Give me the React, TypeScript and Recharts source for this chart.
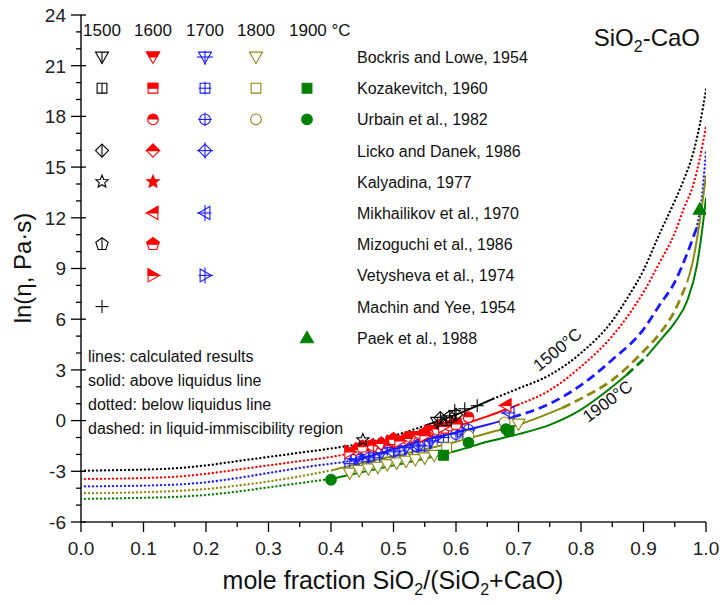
import React from "react";
import { ComposedChart, Line, Scatter, XAxis, YAxis } from "recharts";

const FONT = "'Liberation Sans', Arial, Helvetica, sans-serif";

// axis ticks
const xTicks = [0, 0.05, 0.1, 0.15, 0.2, 0.25, 0.3, 0.35, 0.4, 0.45, 0.5, 0.55, 0.6, 0.65, 0.7, 0.75, 0.8, 0.85, 0.9, 0.95, 1];
const yTicks = [-6, -5, -4, -3, -2, -1, 0, 1, 2, 3, 4, 5, 6, 7, 8, 9, 10, 11, 12, 13, 14, 15, 16, 17, 18, 19, 20, 21, 22, 23, 24];
const tempLabels = ["1500", "1600", "1700", "1800", "1900 °C"];

// calculated ln(eta) curves, x = mole fraction SiO2
const x1500 = [0, 0.05, 0.1, 0.16, 0.2, 0.25, 0.3, 0.35, 0.4, 0.45, 0.5, 0.55, 0.6, 0.66, 0.7, 0.75, 0.8, 0.85, 0.875, 0.9, 0.925, 0.95, 0.965, 0.98, 0.99, 1];
const y1500 = [-2.97, -2.94, -2.9, -2.8, -2.65, -2.4, -2.15, -1.9, -1.65, -1.35, -0.9, -0.3, 0.35, 1.3, 1.9, 2.7, 4.0, 5.9, 7.3, 8.9, 11.0, 13.0, 14.3, 15.9, 17.5, 19.6];
const x1600 = [0, 0.05, 0.1, 0.16, 0.2, 0.25, 0.3, 0.35, 0.4, 0.46, 0.5, 0.55, 0.6, 0.65, 0.7, 0.75, 0.8, 0.85, 0.875, 0.9, 0.925, 0.95, 0.965, 0.98, 0.99, 1];
const y1600 = [-3.46, -3.44, -3.4, -3.3, -3.15, -2.9, -2.65, -2.4, -2.15, -1.7, -1.3, -0.85, -0.35, 0.25, 0.95, 1.8, 3.2, 5.0, 6.2, 7.6, 9.3, 11.1, 12.6, 14.0, 15.5, 17.4];
const x1700 = [0, 0.05, 0.1, 0.16, 0.2, 0.25, 0.3, 0.35, 0.4, 0.44, 0.5, 0.55, 0.6, 0.65, 0.69, 0.75, 0.8, 0.85, 0.9, 0.925, 0.95, 0.97, 0.985, 0.995, 1];
const y1700 = [-3.9, -3.88, -3.85, -3.77, -3.65, -3.4, -3.1, -2.8, -2.55, -2.35, -1.7, -1.15, -0.7, -0.25, 0.2, 1.0, 2.1, 3.6, 5.4, 6.8, 8.2, 9.9, 11.4, 13.8, 16.0];
const x1800 = [0, 0.05, 0.1, 0.16, 0.2, 0.25, 0.3, 0.35, 0.4, 0.45, 0.5, 0.55, 0.6, 0.65, 0.7, 0.77, 0.8, 0.85, 0.9, 0.925, 0.95, 0.97, 0.98, 0.99, 1];
const y1800 = [-4.3, -4.28, -4.24, -4.15, -4.05, -3.85, -3.6, -3.3, -2.95, -2.5, -2.1, -1.7, -1.25, -0.75, -0.25, 0.75, 1.3, 2.4, 4.1, 5.1, 6.5, 8.2, 9.6, 11.8, 14.5];
const x1900 = [0, 0.05, 0.1, 0.16, 0.2, 0.25, 0.3, 0.35, 0.4, 0.45, 0.5, 0.55, 0.6, 0.65, 0.7, 0.75, 0.8, 0.85, 0.873, 0.905, 0.93, 0.95, 0.97, 0.985, 0.995, 1];
const y1900 = [-4.63, -4.61, -4.57, -4.5, -4.4, -4.2, -3.95, -3.7, -3.45, -3.05, -2.65, -2.25, -1.8, -1.25, -0.8, -0.25, 0.65, 2.0, 2.7, 3.8, 4.9, 5.8, 7.1, 9.1, 11.6, 13.2];

// where each curve changes between dotted / solid / dashed
const breaks1500 = [0.55, 0.66];
const breaks1600 = [0.46, 0.7];
const breaks1700 = [0.44, 0.69, 0.985];
const breaks1800 = [0.4, 0.77, 0.97];
const breaks1900 = [0.4, 0.873, 0.905];

// measured data
const bockris1500 = [{ x: 0.57, y: -0.1 }];
const kozakevitch1500 = [{ x: 0.585, y: 0.0 }];
const licko1500 = [{ x: 0.575, y: 0.15 }, { x: 0.6, y: 0.35 }];
const kalyadina1500 = [{ x: 0.451, y: -1.15 }];
const mizoguchi1500 = [{ x: 0.59, y: 0.2 }];
const machin1500 = [{ x: 0.598, y: 0.6 }, { x: 0.614, y: 0.7 }, { x: 0.634, y: 0.88 }];

const bockris1600 = [{ x: 0.47, y: -1.5 }, { x: 0.5, y: -1.2 }, { x: 0.53, y: -0.95 }, { x: 0.56, y: -0.6 }];
const kozakevitch1600 = [{ x: 0.58, y: -0.45 }, { x: 0.6, y: -0.15 }];
const urbain1600 = [{ x: 0.59, y: -0.3 }, { x: 0.62, y: 0.2 }];
const licko1600 = [{ x: 0.44, y: -1.7 }, { x: 0.48, y: -1.35 }, { x: 0.52, y: -1.05 }, { x: 0.55, y: -0.75 }];
const kalyadina1600 = [{ x: 0.455, y: -1.55 }, { x: 0.49, y: -1.25 }];
const mikhailikov1600 = [{ x: 0.46, y: -1.45 }, { x: 0.54, y: -0.85 }, { x: 0.68, y: 0.9 }];
const mizoguchi1600 = [{ x: 0.45, y: -1.55 }, { x: 0.5, y: -1.1 }, { x: 0.57, y: -0.5 }, { x: 0.6, y: -0.2 }];
const vetysheva1600 = [{ x: 0.43, y: -1.85 }, { x: 0.51, y: -1.2 }, { x: 0.55, y: -0.9 }, { x: 0.58, y: -0.35 }];

const bockris1700 = [{ x: 0.44, y: -2.3 }, { x: 0.48, y: -1.95 }, { x: 0.52, y: -1.6 }, { x: 0.56, y: -1.2 }];
const kozakevitch1700 = [{ x: 0.43, y: -2.55 }, { x: 0.47, y: -2.2 }, { x: 0.51, y: -1.8 }, { x: 0.55, y: -1.5 }, { x: 0.58, y: -1.0 }];
const urbain1700 = [{ x: 0.6, y: -0.8 }, { x: 0.62, y: -0.55 }];
const licko1700 = [{ x: 0.45, y: -2.4 }, { x: 0.5, y: -1.85 }, { x: 0.54, y: -1.45 }];
const mikhailikov1700 = [{ x: 0.46, y: -2.1 }, { x: 0.53, y: -1.5 }, { x: 0.685, y: 0.45 }];
const vetysheva1700 = [{ x: 0.44, y: -2.0 }, { x: 0.49, y: -1.6 }, { x: 0.57, y: -0.95 }, { x: 0.61, y: -0.6 }];

const bockris1800 = [
  { x: 0.43, y: -3.1 }, { x: 0.445, y: -2.95 }, { x: 0.46, y: -2.85 }, { x: 0.475, y: -2.75 },
  { x: 0.49, y: -2.6 }, { x: 0.505, y: -2.5 }, { x: 0.52, y: -2.4 }, { x: 0.535, y: -2.3 },
  { x: 0.55, y: -2.2 }, { x: 0.565, y: -2.05 }, { x: 0.7, y: -0.2 },
];
const kozakevitch1800 = [{ x: 0.585, y: -1.6 }];
const urbain1800 = [{ x: 0.62, y: -0.9 }, { x: 0.678, y: -0.1 }];

const kozakevitch1900 = [{ x: 0.58, y: -2.05 }, { x: 0.685, y: -0.6 }];
const urbain1900 = [{ x: 0.4, y: -3.5 }, { x: 0.62, y: -1.3 }, { x: 0.68, y: -0.5 }];
const paek1900 = [{ x: 0.99, y: 12.5 }];

const zip = (xs: number[], ys: number[]) => xs.map((x, i) => ({ x, y: ys[i] }));

const BLACK = "#000000";
const RED = "#ff0000";
const BLUE = "#1a1aff";
const OLIVE = "#8a8a10";
const GREEN = "#008000";

const LINE_STYLE: Record<string, any> = {
  dot: { strokeDasharray: "0.1 3.9", strokeLinecap: "round", strokeWidth: 2.3 },
  solid: { strokeWidth: 2 },
  dash: { strokeDasharray: "9 5", strokeWidth: 2.8 },
};

const curves = [
  { id: "1500", data: zip(x1500, y1500), color: BLACK, breaks: breaks1500, styles: ["dot", "solid", "dot"] },
  { id: "1600", data: zip(x1600, y1600), color: RED, breaks: breaks1600, styles: ["dot", "solid", "dot"] },
  { id: "1700", data: zip(x1700, y1700), color: BLUE, breaks: breaks1700, styles: ["dot", "solid", "dash", "dot"] },
  { id: "1800", data: zip(x1800, y1800), color: OLIVE, breaks: breaks1800, styles: ["dot", "solid", "dash", "solid"] },
  { id: "1900", data: zip(x1900, y1900), color: GREEN, breaks: breaks1900, styles: ["dot", "solid", "dash", "solid"] },
];

const MODE: Record<number, { mode: string; color: string }> = {
  1500: { mode: "vline", color: BLACK },
  1600: { mode: "half", color: RED },
  1700: { mode: "cross", color: BLUE },
  1800: { mode: "open", color: OLIVE },
  1900: { mode: "filled", color: GREEN },
};

const scatterSets = [
  { data: bockris1700, kind: "tdown", t: 1700 },
  { data: kozakevitch1700, kind: "square", t: 1700 },
  { data: urbain1700, kind: "circle", t: 1700 },
  { data: licko1700, kind: "diamond", t: 1700 },
  { data: mikhailikov1700, kind: "tleft", t: 1700 },
  { data: vetysheva1700, kind: "tright", t: 1700 },
  { data: bockris1800, kind: "tdown", t: 1800 },
  { data: kozakevitch1800, kind: "square", t: 1800 },
  { data: urbain1800, kind: "circle", t: 1800 },
  { data: kozakevitch1900, kind: "square", t: 1900 },
  { data: urbain1900, kind: "circle", t: 1900 },
  { data: paek1900, kind: "tup", t: 1900 },
  { data: bockris1600, kind: "tdown", t: 1600 },
  { data: kozakevitch1600, kind: "square", t: 1600 },
  { data: urbain1600, kind: "circle", t: 1600 },
  { data: licko1600, kind: "diamond", t: 1600 },
  { data: kalyadina1600, kind: "star", t: 1600 },
  { data: mikhailikov1600, kind: "tleft", t: 1600 },
  { data: mizoguchi1600, kind: "pentagon", t: 1600 },
  { data: vetysheva1600, kind: "tright", t: 1600 },
  { data: bockris1500, kind: "tdown", t: 1500 },
  { data: kozakevitch1500, kind: "square", t: 1500 },
  { data: licko1500, kind: "diamond", t: 1500 },
  { data: kalyadina1500, kind: "star", t: 1500 },
  { data: mizoguchi1500, kind: "pentagon", t: 1500 },
  { data: machin1500, kind: "plus", t: 1500 },
];

const legendRows = [
  { name: "Bockris and Lowe, 1954", kind: "tdown", temps: [1500, 1600, 1700, 1800] },
  { name: "Kozakevitch, 1960", kind: "square", temps: [1500, 1600, 1700, 1800, 1900] },
  { name: "Urbain et al., 1982", kind: "circle", temps: [1600, 1700, 1800, 1900] },
  { name: "Licko and Danek, 1986", kind: "diamond", temps: [1500, 1600, 1700] },
  { name: "Kalyadina, 1977", kind: "star", temps: [1500, 1600] },
  { name: "Mikhailikov et al., 1970", kind: "tleft", temps: [1600, 1700] },
  { name: "Mizoguchi et al., 1986", kind: "pentagon", temps: [1500, 1600] },
  { name: "Vetysheva et al., 1974", kind: "tright", temps: [1600, 1700] },
  { name: "Machin and Yee, 1954", kind: "plus", temps: [1500] },
  { name: "Paek et al., 1988", kind: "tup", temps: [1900] },
];

const notes = ["lines: calculated results", "solid: above liquidus line", "dotted: below liquidus line", "dashed: in liquid-immiscibility region"];

function poly(kind: string, r: number): number[][] {
  switch (kind) {
    case "tdown": return [[-r, -r * 0.75], [r, -r * 0.75], [0, r]];
    case "tup": return [[-r, r * 0.75], [r, r * 0.75], [0, -r]];
    case "tleft": return [[r * 0.75, -r], [r * 0.75, r], [-r, 0]];
    case "tright": return [[-r * 0.75, -r], [-r * 0.75, r], [r, 0]];
    case "square": { const s = r * 0.75; return [[-s, -s], [s, -s], [s, s], [-s, s]]; }
    case "diamond": return [[0, -r], [r, 0], [0, r], [-r, 0]];
    case "pentagon": return [0, 1, 2, 3, 4].map((k) => { const a = -Math.PI / 2 + (k * 2 * Math.PI) / 5; return [r * Math.cos(a), r * Math.sin(a)]; });
    case "star": return Array.from({ length: 10 }, (_, k) => { const a = -Math.PI / 2 + (k * Math.PI) / 5; const rr = k % 2 === 0 ? r : r * 0.45; return [rr * Math.cos(a), rr * Math.sin(a)]; });
    default: return [];
  }
}

function clipTop(pts: number[][]) {
  const out: number[][] = [];
  for (let i = 0; i < pts.length; i++) {
    const a = pts[i];
    const b = pts[(i + 1) % pts.length];
    const ain = a[1] <= 0;
    const bin = b[1] <= 0;
    if (ain) out.push(a);
    if (ain !== bin) {
      const t = a[1] / (a[1] - b[1]);
      out.push([a[0] + t * (b[0] - a[0]), 0]);
    }
  }
  return out;
}

const ptsStr = (p: number[][]) => p.map((q) => `${q[0].toFixed(2)},${q[1].toFixed(2)}`).join(" ");

function Marker({ cx, cy, kind, t, r = 6 }: any) {
  const { mode, color } = MODE[t];
  const sw = 1.1;
  if (kind === "plus") {
    return (
      <g transform={`translate(${cx},${cy})`} stroke={color} strokeWidth={sw}>
        <line x1={-r} x2={r} y1={0} y2={0} />
        <line x1={0} x2={0} y1={-r} y2={r} />
      </g>
    );
  }
  let fill = "none";
  if (mode === "filled" || (mode === "half" && kind === "star")) fill = color;
  else if (mode === "open" || mode === "half") fill = "#fff";
  let body: React.ReactNode;
  let half: React.ReactNode = null;
  let minX = -r, maxX = r, minY = -r, maxY = r;
  if (kind === "circle") {
    const rr = r * 0.82;
    minX = -rr; maxX = rr; minY = -rr; maxY = rr;
    body = <circle r={rr} fill={fill} stroke={color} strokeWidth={sw} />;
    if (mode === "half") half = <path d={`M ${-rr} 0 A ${rr} ${rr} 0 0 1 ${rr} 0 Z`} fill={color} />;
  } else {
    const p = poly(kind, r);
    minX = Math.min(...p.map((q) => q[0])); maxX = Math.max(...p.map((q) => q[0]));
    minY = Math.min(...p.map((q) => q[1])); maxY = Math.max(...p.map((q) => q[1]));
    body = <polygon points={ptsStr(p)} fill={fill} stroke={color} strokeWidth={sw} strokeLinejoin="miter" />;
    if (mode === "half" && kind !== "star") half = <polygon points={ptsStr(clipTop(p))} fill={color} stroke={color} strokeWidth={sw} />;
  }
  return (
    <g transform={`translate(${cx},${cy})`}>
      {body}
      {half}
      {mode === "vline" && kind !== "star" && <line x1={0} x2={0} y1={minY} y2={maxY} stroke={color} strokeWidth={sw} />}
      {mode === "cross" && (
        <g stroke={color} strokeWidth={sw}>
          <line x1={0} x2={0} y1={minY - 1.5} y2={maxY + 1.5} />
          <line x1={minX - 1.5} x2={maxX + 1.5} y1={0} y2={0} />
        </g>
      )}
    </g>
  );
}

function XTick(props: any) {
  const { x, y, payload } = props;
  const v = payload.value;
  const major = Math.round(v * 100) % 10 === 0;
  return (
    <g>
      <line x1={x} x2={x} y1={y} y2={y + (major ? 10 : 5)} stroke="#000" strokeWidth={1.3} />
      {major && (
        <text x={x} y={y + 33} textAnchor="middle" fontSize={19} fontFamily={FONT} fill="#222">
          {v.toFixed(1)}
        </text>
      )}
    </g>
  );
}

function YTick(props: any) {
  const { x, y, payload } = props;
  const v = payload.value;
  const major = v % 3 === 0;
  return (
    <g>
      <line x1={x - (major ? 10 : 5)} x2={x + (major ? 5 : 0)} y1={y} y2={y} stroke="#000" strokeWidth={1.3} />
      {major && (
        <text x={x - 15} y={y} dy="0.36em" textAnchor="end" fontSize={19} fontFamily={FONT} fill="#222">
          {v}
        </text>
      )}
    </g>
  );
}

const colX: Record<number, number> = { 1500: 102, 1600: 153, 1700: 205, 1800: 256, 1900: 307 };
const headX = [102, 153, 205, 256, 289];

export default function App() {
  const axisLine = { stroke: "#222", strokeWidth: 1.6 };
  const lines: React.ReactNode[] = [];
  curves.forEach((c) => {
    const edges = [0, ...c.breaks, 1];
    c.styles.forEach((s, i) => {
      const a = edges[i];
      const b = edges[i + 1];
      const d = c.data.filter((p) => p.x >= a - 1e-9 && p.x <= b + 1e-9);
      lines.push(
        <Line
          key={`${c.id}-${i}`}
          data={d}
          dataKey="y"
          type="monotone"
          stroke={c.color}
          dot={false}
          activeDot={false}
          isAnimationActive={false}
          {...LINE_STYLE[s]}
        />
      );
    });
  });

  return (
    <div style={{ position: "absolute", left: 0, top: 0, width: 722, height: 605, background: "#fff", fontFamily: FONT }}>
      <ComposedChart width={722} height={605} margin={{ top: 15, right: 16, bottom: 0, left: 0 }}>
        <XAxis
          type="number"
          dataKey="x"
          domain={[0, 1]}
          ticks={xTicks}
          interval={0}
          tick={(p: any) => <XTick {...p} />}
          tickLine={false}
          tickSize={0}
          tickMargin={0}
          height={83}
          axisLine={axisLine}
          allowDataOverflow
        />
        <XAxis xAxisId="top" orientation="top" type="number" dataKey="x" domain={[0, 1]} height={0} tick={false} tickLine={false} axisLine={axisLine} />
        <YAxis
          type="number"
          domain={[-6, 24]}
          ticks={yTicks}
          interval={0}
          tick={(p: any) => <YTick {...p} />}
          tickLine={false}
          tickSize={0}
          tickMargin={0}
          width={81}
          axisLine={axisLine}
          allowDataOverflow
        />
        <YAxis yAxisId="right" orientation="right" type="number" domain={[-6, 24]} width={0} tick={false} tickLine={false} axisLine={axisLine} />
        {lines}
        {scatterSets.map((s, i) => (
          <Scatter
            key={`s${i}`}
            data={s.data}
            dataKey="y"
            isAnimationActive={false}
            shape={(p: any) => <Marker cx={p.cx} cy={p.cy} kind={s.kind} t={s.t} r={6.5} />}
          />
        ))}
      </ComposedChart>

      <svg width={722} height={605} style={{ position: "absolute", left: 0, top: 0, pointerEvents: "none" }} fontFamily={FONT}>
        {/* temperature header */}
        {tempLabels.map((l, i) => (
          <text key={l} x={headX[i]} y={36} fontSize={17} textAnchor={i < 4 ? "middle" : "start"} fill="#111">
            {l}
          </text>
        ))}
        {legendRows.map((row, i) => {
          const cy = 57 + i * 31.2;
          return (
            <g key={row.name}>
              {row.temps.map((t) => (
                <Marker key={t} cx={colX[t]} cy={cy} kind={row.kind} t={t} r={6.5} />
              ))}
              <text x={357} y={cy + 6} fontSize={16} fill="#111">
                {row.name}
              </text>
            </g>
          );
        })}
        {notes.map((n, i) => (
          <text key={n} x={88} y={362 + i * 24} fontSize={16} fill="#111">
            {n}
          </text>
        ))}
        <text x={700} y={46} textAnchor="end" fontSize={24} fill="#111">
          SiO<tspan dy={6} fontSize={16}>2</tspan>
          <tspan dy={-6}>-CaO</tspan>
        </text>
        <text transform="translate(561,354) rotate(-39)" textAnchor="middle" fontSize={17} fill="#111">
          1500°C
        </text>
        <text transform="translate(611,406) rotate(-37)" textAnchor="middle" fontSize={17} fill="#111">
          1900°C
        </text>
        <text x={393} y={589} textAnchor="middle" fontSize={25} fill="#111">
          mole fraction SiO<tspan dy={6} fontSize={16}>2</tspan>
          <tspan dy={-6}>/(SiO</tspan>
          <tspan dy={6} fontSize={16}>2</tspan>
          <tspan dy={-6}>+CaO)</tspan>
        </text>
        <text transform="translate(31,268) rotate(-90)" textAnchor="middle" fontSize={24} fill="#111">
          ln(η, Pa·s)
        </text>
      </svg>
    </div>
  );
}
